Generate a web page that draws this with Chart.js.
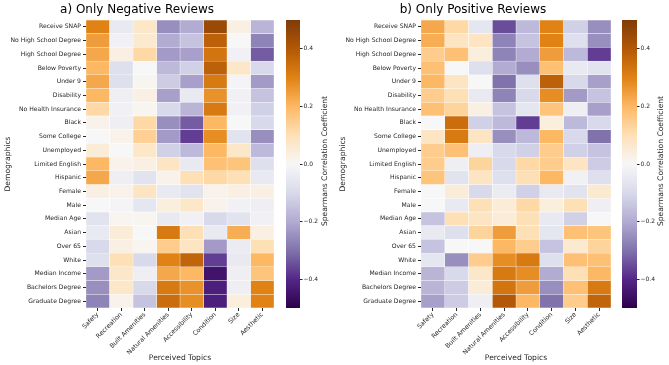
<!DOCTYPE html>
<html><head><meta charset="utf-8">
<script src="https://cdn.jsdelivr.net/npm/chart.js@4.4.0/dist/chart.umd.min.js"></script>
<style>
html,body{margin:0;padding:0;background:#fff;width:669px;height:365px;overflow:hidden;position:relative;}
canvas{position:absolute;top:0;}
</style></head><body>
<canvas id="hA" style="left:0px;width:330px;height:365px" width="330" height="365"></canvas>
<canvas id="cA" style="left:276px;width:59px;height:365px" width="59" height="365"></canvas>
<canvas id="hB" style="left:335px;width:332px;height:365px" width="332" height="365"></canvas>
<canvas id="cB" style="left:612px;width:57px;height:365px" width="57" height="365"></canvas>
<script>
const topics = ['Safety','Recreation','Built Amenities','Natural Amenities','Accessibility','Condition','Size','Aesthetic'];
const demographics = ['Receive SNAP','No High School Degree','High School Degree','Below Poverty','Under 9','Disability','No Health Insurance','Black','Some College','Unemployed','Limited English','Hispanic','Female','Male','Median Age','Asian','Over 65','White','Median Income','Bachelors Degree','Graduate Degree'];
const colorbarTicks = [-0.4,-0.2,0.0,0.2,0.4];

// a) Only Negative Reviews (rows = demographics, cols = topics)
const negValues = [
  [ 0.30,-0.05, 0.07,-0.25,-0.20, 0.45, 0.03,-0.18],
  [ 0.25,-0.02, 0.06,-0.20,-0.15, 0.38, 0.00,-0.27],
  [ 0.23, 0.03, 0.12,-0.23,-0.22, 0.33,-0.02,-0.33],
  [ 0.20,-0.08, 0.00,-0.17,-0.12, 0.38, 0.07,-0.10],
  [ 0.23,-0.08, 0.01,-0.13,-0.22, 0.32,-0.01,-0.23],
  [ 0.20,-0.03, 0.03,-0.22,-0.05, 0.27,-0.02,-0.15],
  [ 0.12,-0.02, 0.01,-0.10,-0.18, 0.32,-0.02,-0.12],
  [ 0.02,-0.03, 0.12,-0.25,-0.33, 0.20, 0.00,-0.10],
  [ 0.00, 0.02, 0.14,-0.23,-0.37, 0.28,-0.07,-0.25],
  [ 0.05, 0.00, 0.07,-0.12,-0.17, 0.20, 0.07,-0.17],
  [ 0.20, 0.02, 0.03, 0.08,-0.05, 0.18, 0.17,-0.08],
  [ 0.23,-0.03,-0.07, 0.02, 0.10, 0.12, 0.10,-0.05],
  [ 0.03, 0.02, 0.08,-0.05,-0.07, 0.02, 0.03, 0.03],
  [ 0.00,-0.01,-0.06, 0.04, 0.07, 0.02,-0.02,-0.03],
  [-0.07, 0.01, 0.01,-0.05,-0.02,-0.10,-0.07,-0.02],
  [-0.05, 0.05, 0.00, 0.32, 0.10,-0.05, 0.22, 0.03],
  [-0.10, 0.03, 0.01, 0.15, 0.08,-0.23,-0.04, 0.10],
  [-0.08, 0.10,-0.10, 0.30, 0.37,-0.37,-0.05, 0.20],
  [-0.23, 0.07,-0.03, 0.23, 0.20,-0.45,-0.03, 0.17],
  [-0.25, 0.07,-0.10, 0.32, 0.27,-0.42,-0.03, 0.30],
  [-0.27, 0.02,-0.15, 0.35, 0.28,-0.42, 0.04, 0.30]
];

// b) Only Positive Reviews
const posValues = [
  [ 0.23, 0.12,-0.06,-0.35,-0.17, 0.30,-0.12,-0.25],
  [ 0.22, 0.08, 0.08,-0.27,-0.15, 0.30,-0.08,-0.25],
  [ 0.15, 0.18, 0.04,-0.27,-0.20, 0.25,-0.17,-0.37],
  [ 0.18, 0.00,-0.08,-0.20,-0.25, 0.18,-0.05,-0.07],
  [ 0.20, 0.08, 0.00,-0.30,-0.08, 0.38,-0.10,-0.22],
  [ 0.15, 0.10,-0.05,-0.27,-0.10, 0.28,-0.23,-0.15],
  [ 0.18, 0.13, 0.03,-0.15,-0.06, 0.17,-0.03,-0.22],
  [ 0.00, 0.35,-0.12,-0.17,-0.37, 0.04,-0.17,-0.10],
  [ 0.08, 0.32, 0.08,-0.25,-0.17, 0.20,-0.10,-0.30],
  [ 0.15, 0.18,-0.03,-0.10,-0.12, 0.15,-0.12,-0.15],
  [ 0.15,-0.03, 0.13,-0.10, 0.12, 0.15, 0.08,-0.13],
  [ 0.17,-0.07, 0.08,-0.08, 0.10, 0.20,-0.02,-0.08],
  [ 0.00, 0.05,-0.10,-0.04,-0.12,-0.05,-0.07, 0.06],
  [ 0.00,-0.05, 0.10, 0.05, 0.12, 0.04, 0.10,-0.03],
  [-0.15, 0.10, 0.08, 0.05, 0.10,-0.05,-0.12, 0.00],
  [-0.05,-0.08, 0.13, 0.25, 0.10,-0.06, 0.18, 0.17],
  [-0.15, 0.00, 0.00, 0.20, 0.15,-0.15, 0.06, 0.13],
  [-0.06,-0.25, 0.15, 0.28, 0.32,-0.08, 0.18, 0.18],
  [-0.18,-0.10, 0.07, 0.32, 0.28,-0.20, 0.10, 0.20],
  [-0.18,-0.13, 0.05, 0.33, 0.25,-0.25, 0.18, 0.32],
  [-0.22,-0.13,-0.03, 0.40, 0.20,-0.30, 0.15, 0.37]
];

const F = 'DejaVu Sans';
const TC = '#262626';
Chart.defaults.font.family = F;

const PUOR_R = ['#2d004b','#542788','#8073ac','#b2abd2','#d8daeb','#f7f7f7','#fee0b6','#fdb863','#e08214','#b35806','#7f3b08'];
function hex2rgb(h){ return [parseInt(h.slice(1,3),16),parseInt(h.slice(3,5),16),parseInt(h.slice(5,7),16)]; }
const PUOR_RGB = PUOR_R.map(hex2rgb);
function cmap(v){
  let t = (v + 0.5) / 1.0;
  t = Math.max(0, Math.min(1, t));
  const p = t * 10;
  const i = Math.min(9, Math.floor(p));
  const f = p - i;
  const a = PUOR_RGB[i], b = PUOR_RGB[i+1];
  const c = a.map((x,k)=>Math.round(x + (b[k]-x)*f));
  return `rgb(${c[0]},${c[1]},${c[2]})`;
}

function heatmap(id, title, values, rightPad){
  const datasets = topics.map((t,j)=>({
    label: t,
    data: demographics.map(()=>[j, j+1]),
    backgroundColor: demographics.map((d,i)=>cmap(values[i][j])),
    borderColor: 'rgba(255,255,255,0.6)',
    borderWidth: 0.5,
    borderSkipped: false,
    grouped: false,
    barPercentage: 1,
    categoryPercentage: 1
  }));
  new Chart(document.getElementById(id), {
    type: 'bar',
    data: {labels: demographics, datasets},
    options: {
      indexAxis: 'y', responsive: false, animation: false,
      layout: {padding: {left: 0, right: rightPad, top: 0, bottom: 0}},
      plugins: {
        legend: {display: false}, tooltip: {enabled: false},
        title: {display: true, text: title, font: {family: F, size: 12, weight: 'normal'}, color: '#000', padding: {top: 3, bottom: 2.6}}
      },
      scales: {
        x: {
          type: 'linear', min: 0, max: 8, position: 'bottom',
          afterBuildTicks: s => { s.ticks = topics.map((t,i)=>({value: i + 0.5})); },
          afterFit: s => { s.height = 57; },
          ticks: {autoSkip: false, minRotation: 45, maxRotation: 45, font: {family: F, size: 6.3}, color: TC, padding: 0,
                  callback: (v, i) => topics[i]},
          grid: {drawOnChartArea: false, drawTicks: true, tickLength: 3, color: TC},
          border: {display: false},
          title: {display: true, text: 'Perceived Topics', font: {family: F, size: 7.6}, color: TC, padding: {top: 0, bottom: 2}}
        },
        y: {
          type: 'category',
          afterFit: s => { s.width = 86; },
          ticks: {autoSkip: false, font: {family: F, size: 6.1}, color: TC, padding: 2},
          grid: {offset: false, drawOnChartArea: false, drawTicks: true, tickLength: 3, color: TC},
          border: {display: false},
          title: {display: true, text: 'Demographics', font: {family: F, size: 7.6}, color: TC, padding: {top: 3, bottom: 0}}
        }
      }
    }
  });
}

function colorbar(id, axisWidth, titleX){
  new Chart(document.getElementById(id), {
    type: 'bar',
    data: {labels: ['cb'], datasets: [{
      data: [[-0.5, 0.5]],
      backgroundColor: ctx => {
        const c = ctx.chart;
        if (!c.chartArea || !c.scales.y) return PUOR_R[5];
        const ys = c.scales.y;
        const g = c.ctx.createLinearGradient(0, ys.getPixelForValue(-0.5), 0, ys.getPixelForValue(0.5));
        PUOR_R.forEach((col,k)=>g.addColorStop(k/10, col));
        return g;
      },
      borderWidth: 0, barPercentage: 1, categoryPercentage: 1
    }]},
    options: {
      responsive: false, animation: false,
      layout: {padding: {left: 10, top: 20, bottom: 57, right: 0}},
      plugins: {legend: {display: false}, tooltip: {enabled: false}},
      scales: {
        x: {display: false},
        y: {
          position: 'right', min: -0.5, max: 0.5,
          afterBuildTicks: s => { s.ticks = colorbarTicks.map(v=>({value: v})); },
          afterFit: s => { s.width = axisWidth; },
          ticks: {font: {family: F, size: 6}, color: TC, padding: 1,
                  callback: v => (v < -1e-9 ? '\u2212' : '') + Math.abs(v).toFixed(1)},
          grid: {drawOnChartArea: false, drawTicks: true, tickLength: 2.5, color: TC},
          border: {display: false}
        }
      }
    },
    plugins: [{
      id: 'cbTitle',
      afterDraw(chart){
        const ctx = chart.ctx;
        ctx.save();
        ctx.translate(titleX, 161);
        ctx.rotate(-Math.PI/2);
        ctx.font = '7.6px "DejaVu Sans"';
        ctx.fillStyle = TC;
        ctx.textAlign = 'center';
        ctx.textBaseline = 'middle';
        ctx.fillText('Spearmans Correlation Coefficient', 0, 0);
        ctx.restore();
      }
    }]
  });
}

heatmap('hA', 'a) Only Negative Reviews', negValues, 56);
colorbar('cA', 35, 49);
heatmap('hB', 'b) Only Positive Reviews', posValues, 56);
colorbar('cB', 32, 49);
</script>
</body></html>
